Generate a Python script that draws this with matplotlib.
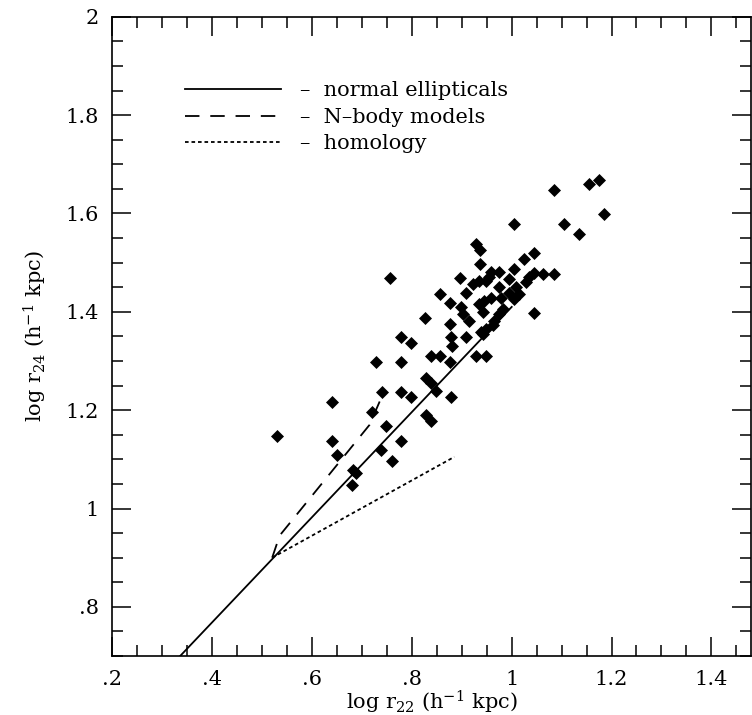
import matplotlib
matplotlib.use("Agg")
import matplotlib.pyplot as plt
from matplotlib.ticker import FixedLocator, MultipleLocator

plt.rcParams['font.family'] = ['DejaVu Serif']
plt.rcParams['mathtext.fontset'] = 'dejavuserif'

# galaxies: log r22 vs log r24
gal_x = [1.084, 1.154, 1.174, 1.184, 1.104, 1.135, 1.005,
         0.929, 0.936, 0.936, 1.045, 1.025, 1.005, 1.045, 1.035, 1.063, 1.085, 1.045,
         0.757, 0.896, 0.857, 0.877, 0.827, 0.877,
         0.838, 0.857, 0.929, 0.948, 0.876,
         0.908, 0.878, 0.881, 0.938,
         0.958, 0.975, 0.995, 1.008, 1.015, 1.005, 0.922, 0.935, 0.948, 0.908,
         0.975, 0.958, 0.978, 0.995, 0.898, 0.935, 0.942, 0.902, 0.915, 0.975,
         0.965, 0.982, 0.948, 0.945, 0.955, 0.942, 1.028, 0.962,
         0.530, 0.640, 0.640, 0.650, 0.682, 0.688, 0.680,
         0.728, 0.779, 0.779, 0.799, 0.740, 0.720, 0.779, 0.799, 0.748, 0.779,
         0.738, 0.760, 0.828, 0.838, 0.848, 0.828, 0.838, 0.878]
gal_y = [1.648, 1.659, 1.669, 1.598, 1.579, 1.559, 1.578,
         1.537, 1.526, 1.497, 1.519, 1.507, 1.488, 1.479, 1.470, 1.477, 1.477, 1.397,
         1.469, 1.469, 1.437, 1.417, 1.388, 1.376,
         1.310, 1.310, 1.310, 1.310, 1.297,
         1.348, 1.348, 1.331, 1.358,
         1.480, 1.480, 1.467, 1.450, 1.436, 1.426, 1.457, 1.463, 1.463, 1.439,
         1.450, 1.429, 1.429, 1.439, 1.409, 1.416, 1.399, 1.395, 1.382, 1.395,
         1.382, 1.405, 1.365, 1.422, 1.470, 1.354, 1.460, 1.374,
         1.147, 1.217, 1.137, 1.108, 1.079, 1.072, 1.047,
         1.297, 1.297, 1.349, 1.337, 1.237, 1.197, 1.237, 1.227, 1.167, 1.138,
         1.118, 1.097, 1.266, 1.256, 1.239, 1.191, 1.178, 1.227]

# relations
normal_x = [0.30, 1.0]
normal_y = [0.662, 1.41]
nbody_x = [0.52, 0.535, 0.715, 0.745]
nbody_y = [0.90, 0.945, 1.17, 1.24]
homol_x = [0.52, 0.885]
homol_y = [0.90, 1.105]

xticks = [0.2, 0.4, 0.6, 0.8, 1.0, 1.2, 1.4]
xlabels = ['.2', '.4', '.6', '.8', '1', '1.2', '1.4']
yticks = [0.8, 1.0, 1.2, 1.4, 1.6, 1.8, 2.0]
ylabels = ['.8', '1', '1.2', '1.4', '1.6', '1.8', '2']

fig = plt.figure(figsize=(7.52, 7.15), dpi=100)
ax = fig.add_axes([0.1496, 0.0825, 0.8494, 0.894])

ax.plot(normal_x, normal_y, color='black', lw=1.3, ls='-', label='normal ellipticals')
ax.plot(nbody_x, nbody_y, color='black', lw=1.3, ls=(0, (8, 6)), label='N\u2013body models')
ax.plot(homol_x, homol_y, color='black', lw=1.3, ls=(0, (2, 1.6)), label='homology')
ax.scatter(gal_x, gal_y, marker='D', s=44, color='black', linewidths=0, zorder=3)

ax.set_xlim(0.2, 1.48)
ax.set_ylim(0.7, 2.0)
ax.xaxis.set_major_locator(FixedLocator(xticks))
ax.set_xticklabels(xlabels)
ax.yaxis.set_major_locator(FixedLocator(yticks))
ax.set_yticklabels(ylabels)
ax.xaxis.set_minor_locator(MultipleLocator(0.05))
ax.yaxis.set_minor_locator(MultipleLocator(0.05))
ax.tick_params(which='both', direction='in', top=True, right=True, width=1.1,
               labelsize=15, pad=10)
ax.tick_params(which='major', length=14)
ax.tick_params(which='minor', length=8)
for sp in ax.spines.values():
    sp.set_linewidth(1.2)

ax.set_xlabel(r'log r$_{22}$ (h$^{-1}$ kpc)', fontsize=15, labelpad=0)
ax.set_ylabel(r'log r$_{24}$ (h$^{-1}$ kpc)', fontsize=15, labelpad=12)

# legend drawn as in the original: line sample then "- text"
leg = ax.legend(loc='upper left', bbox_to_anchor=(0.1, 0.912), frameon=False,
                fontsize=15, handlelength=4.6, handletextpad=0.95,
                labelspacing=0.36, borderaxespad=0)
for t in leg.get_texts():
    t.set_text('\u2013  ' + t.get_text())

fig.savefig('out.png', dpi=100)
